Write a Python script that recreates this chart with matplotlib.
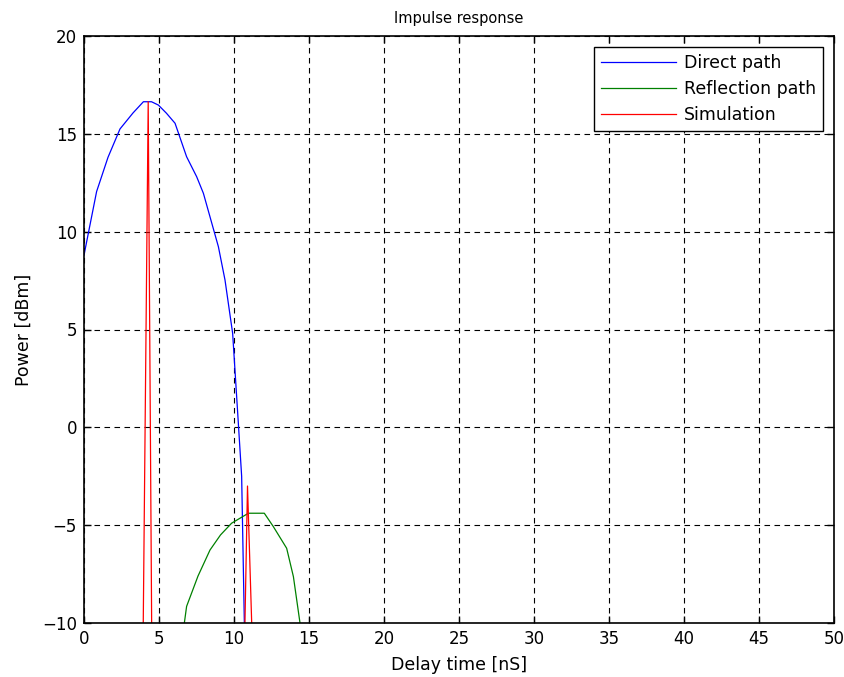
import numpy as np
import matplotlib
matplotlib.use("Agg")
import matplotlib.pyplot as plt

plt.rcParams['font.family'] = ['DejaVu Sans']

direct_x = [0, 0.84, 1.6, 2.4, 3.27, 3.96, 4.5, 4.96, 5.5, 6.07, 6.84, 7.51, 7.96, 8.96, 9.4, 9.91, 10.29, 10.51, 10.69]
direct_y = [8.8, 12.05, 13.8, 15.25, 16.07, 16.64, 16.64, 16.47, 16.05, 15.54, 13.83, 12.81, 11.96, 9.23, 7.53, 4.8, 0.2, -2.5, -10]

refl_x = [6.69, 6.84, 7.6, 8.4, 9.1, 9.84, 10.96, 12.02, 12.62, 13.51, 13.96, 14.4]
refl_y = [-10, -9.15, -7.6, -6.27, -5.5, -4.9, -4.39, -4.39, -5.07, -6.18, -7.63, -10]

sim_x = [3.95, 4.28, 4.51, np.nan, 10.73, 10.9, 11.18]
sim_y = [-10, 16.64, -10, np.nan, -10, -3.0, -10]

xticks = [0, 5, 10, 15, 20, 25, 30, 35, 40, 45, 50]
yticks = [-10, -5, 0, 5, 10, 15, 20]

fig = plt.figure(figsize=(8.44, 6.77), dpi=100)
ax = fig.add_axes([84/844, 54/677, 750/844, 587/677])

ax.plot(direct_x, direct_y, color=(0, 0, 1), lw=0.9, label='Direct path')
ax.plot(refl_x, refl_y, color=(0, 0.5, 0), lw=0.9, label='Reflection path')
ax.plot(sim_x, sim_y, color=(1, 0, 0), lw=0.9, label='Simulation')

ax.set_xlim(0, 50)
ax.set_ylim(-10, 20)
ax.set_xticks(xticks)
ax.set_yticks(yticks)
ax.set_yticklabels(['\u221210', '\u22125', '0', '5', '10', '15', '20'])
ax.grid(True, color='black', linestyle=(0, (5, 4)), linewidth=0.8)
ax.tick_params(direction='in', top=True, right=True, length=5, width=1, labelsize=12, pad=5)
for s in ax.spines.values():
    s.set_linewidth(1.2)

ax.set_title('Impulse response', fontsize=10.5, pad=9)
ax.set_xlabel('Delay time [nS]', fontsize=12.5, labelpad=6)
ax.set_ylabel('Power [dBm]', fontsize=12.5, labelpad=7)

leg = ax.legend(loc='upper right', fontsize=12.5, fancybox=False, framealpha=1,
                edgecolor='black', borderaxespad=0.65, handlelength=4.3,
                handletextpad=0.45, labelspacing=0.45, borderpad=0.4)
leg.get_frame().set_linewidth(1.0)

fig.savefig('out.png', dpi=100)
